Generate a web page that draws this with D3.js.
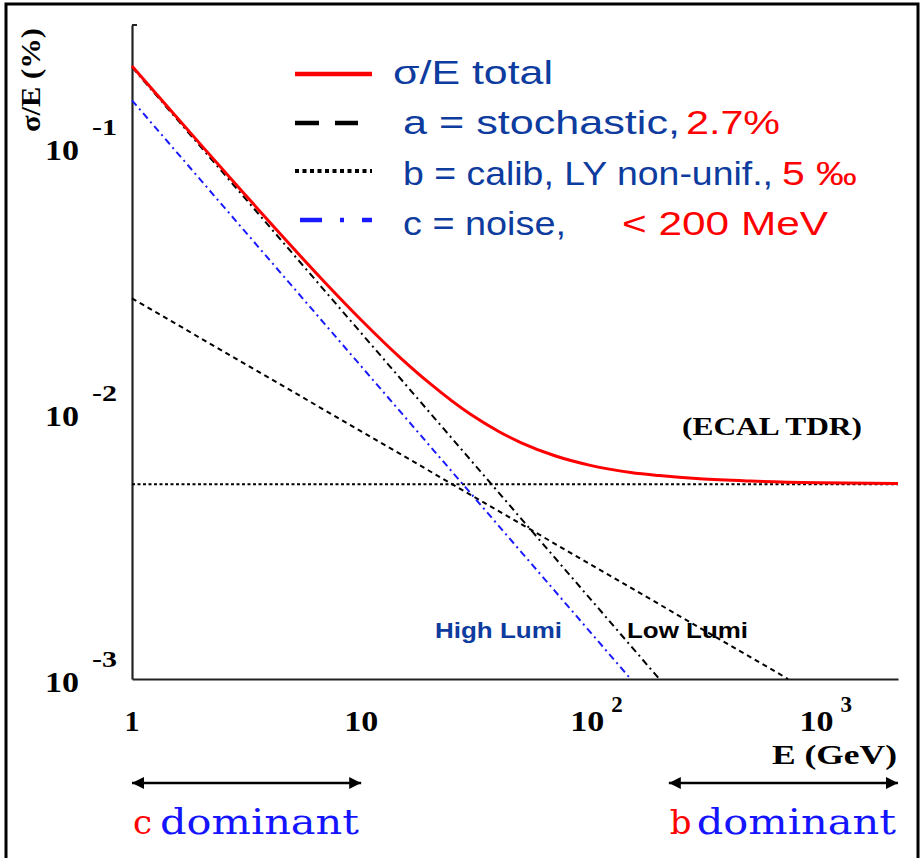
<!DOCTYPE html>
<html>
<head>
<meta charset="utf-8">
<script src="https://cdn.jsdelivr.net/npm/d3@7"></script>
<style>
  html, body { margin: 0; padding: 0; background: #ffffff; }
  svg { display: block; }
</style>
</head>
<body>
<svg id="chart" width="922" height="858"></svg>
<script>
// ---------------- DATA ----------------
// total resolution sigma/E (fraction)
const totalEnergies = [1, 1.5, 2, 3, 4, 5, 7, 10, 15, 20, 30, 40, 50, 70, 100, 150, 200, 300, 500, 1000, 2200];
const totalValues   = [0.2019, 0.1353, 0.1020, 0.0687, 0.0521, 0.0421, 0.0308, 0.0224, 0.0160, 0.0129, 0.00989, 0.00851, 0.00773, 0.00691, 0.00636, 0.00598, 0.00582, 0.00566, 0.00555, 0.00547, 0.00543];
// stochastic term (a = 2.7%)
const stochasticEnergies = [1, 729];
const stochasticValues   = [0.027, 0.001];
// constant term (b)
const constantEnergies = [1, 2200];
const constantValues   = [0.0054, 0.0054];
// noise term, low luminosity
const noiseLowEnergies = [1, 200];
const noiseLowValues   = [0.2, 0.001];
// noise term, high luminosity
const noiseHighEnergies = [1, 150];
const noiseHighValues   = [0.15, 0.001];

const xTickValues = [1, 10, 100, 1000];
const xTickBase   = ["1", "10", "10", "10"];
const xTickExp    = ["", "", "2", "3"];
const yTickValues = [0.1, 0.01, 0.001];
const yTickBase   = ["10", "10", "10"];
const yTickExp    = ["-1", "-2", "-3"];

const legendRows = [
  [{t: "\u03c3/E total", c: "blue"}],
  [{t: "a = stochastic,", c: "blue"}, {t: "2.7%", c: "red"}],
  [{t: "b = calib, LY non-unif.,", c: "blue"}, {t: "5 \u2030", c: "red"}],
  [{t: "c = noise,", c: "blue"}, {t: "< 200 MeV", c: "red"}]
];
const dominanceLabels = [{k: "c", rest: "dominant", from: 1, to: 10}, {k: "b", rest: "dominant", from: 220, to: 2200}];

// ---------------- DRAWING ----------------
const svg = d3.select("#chart");
const NAVY = "#0d3b9e", RED = "#ff0000", BBLUE = "#1414ff";
const col = c => c === "red" ? RED : NAVY;

const x = d3.scaleLog().domain([1, 2200]).range([132, 898]);
const y = d3.scaleLog().domain([0.001, 0.288]).range([679, 25]);

// outer frame
svg.append("rect").attr("x", 6).attr("y", 4).attr("width", 912).attr("height", 900)
  .attr("fill", "none").attr("stroke", "#000").attr("stroke-width", 3);

// axes
const xAxis = d3.axisBottom(x).tickValues(xTickValues).tickSize(0).tickSizeOuter(0).tickFormat("");
const yAxis = d3.axisLeft(y).tickValues(yTickValues).tickSize(0).tickSizeOuter(0).tickFormat("");
const gx = svg.append("g").attr("transform", "translate(0,679)").call(xAxis);
const gy = svg.append("g").attr("transform", "translate(132,0)").call(yAxis);
gx.select(".domain").attr("stroke", "#222").attr("stroke-width", 2.2);
gy.select(".domain").attr("stroke", "#222").attr("stroke-width", 2.2);
// small hook at top of y axis
svg.append("line").attr("x1", 132).attr("x2", 137).attr("y1", y(0.288)).attr("y2", y(0.288))
  .attr("stroke", "#222").attr("stroke-width", 2);

const serif = "'Liberation Serif', 'Times New Roman', serif";

// x tick labels
xTickValues.forEach((v, i) => {
  const px = x(v);
  const hasExp = xTickExp[i] !== "";
  const base = svg.append("text")
    .attr("x", hasExp ? px - 3 : px).attr("y", 731)
    .attr("text-anchor", "middle")
    .attr("font-family", serif).attr("font-weight", "bold").attr("font-size", 30)
    .attr("fill", "#000").text(xTickBase[i]);
  if (xTickBase[i].length === 2) base.attr("textLength", 34).attr("lengthAdjust", "spacingAndGlyphs");
  if (hasExp) {
    svg.append("text").attr("x", px + 21).attr("y", 712)
      .attr("font-family", serif).attr("font-weight", "bold").attr("font-size", 23)
      .attr("fill", "#000").text(xTickExp[i]);
  }
});

// y tick labels
yTickValues.forEach((v, i) => {
  const py = y(v);
  svg.append("text").attr("x", 79).attr("y", py + 13)
    .attr("text-anchor", "end")
    .attr("font-family", serif).attr("font-weight", "bold").attr("font-size", 30)
    .attr("textLength", 34).attr("lengthAdjust", "spacingAndGlyphs")
    .attr("fill", "#000").text(yTickBase[i]);
  svg.append("text").attr("x", 92).attr("y", py - 12)
    .attr("font-family", serif).attr("font-weight", "bold").attr("font-size", 23)
    .attr("textLength", 25).attr("lengthAdjust", "spacingAndGlyphs")
    .attr("fill", "#000").text(yTickExp[i]);
});

// axis titles
svg.append("text").attr("transform", "translate(40,80) rotate(-90)")
  .attr("text-anchor", "middle")
  .attr("font-family", serif).attr("font-weight", "bold").attr("font-size", 27)
  .attr("textLength", 104).attr("lengthAdjust", "spacingAndGlyphs")
  .attr("fill", "#000").text("\u03c3/E (%)");
svg.append("text").attr("x", 772).attr("y", 764)
  .attr("font-family", serif).attr("font-weight", "bold").attr("font-size", 27)
  .attr("textLength", 125).attr("lengthAdjust", "spacingAndGlyphs")
  .attr("fill", "#000").text("E (GeV)");

svg.append("text").attr("x", 682).attr("y", 435)
  .attr("font-family", serif).attr("font-weight", "bold").attr("font-size", 25)
  .attr("textLength", 180).attr("lengthAdjust", "spacingAndGlyphs")
  .attr("fill", "#000").text("(ECAL TDR)");

// curves
const line = d3.line().x(d => x(d[0])).y(d => y(d[1]));
const smooth = d3.line().x(d => x(d[0])).y(d => y(d[1])).curve(d3.curveMonotoneX);
const zip = (a, b) => a.map((e, i) => [e, b[i]]);

svg.append("path").datum(zip(constantEnergies, constantValues)).attr("d", line)
  .attr("fill", "none").attr("stroke", "#000").attr("stroke-width", 1.8).attr("stroke-dasharray", "3,2.5");
svg.append("path").datum(zip(stochasticEnergies, stochasticValues)).attr("d", line)
  .attr("fill", "none").attr("stroke", "#000").attr("stroke-width", 2).attr("stroke-dasharray", "5,4");
svg.append("path").datum(zip(noiseHighEnergies, noiseHighValues)).attr("d", line)
  .attr("fill", "none").attr("stroke", "#1a1aff").attr("stroke-width", 2).attr("stroke-dasharray", "7,4,2,4");
svg.append("path").datum(zip(noiseLowEnergies, noiseLowValues)).attr("d", line)
  .attr("fill", "none").attr("stroke", "#000").attr("stroke-width", 2).attr("stroke-dasharray", "7,4,2,4");
svg.append("path").datum(zip(totalEnergies, totalValues)).attr("d", smooth)
  .attr("fill", "none").attr("stroke", RED).attr("stroke-width", 3);

// lumi labels
const sans = "'Liberation Sans', Arial, sans-serif";
svg.append("text").attr("x", 435).attr("y", 638)
  .attr("font-family", sans).attr("font-weight", "bold").attr("font-size", 22)
  .attr("textLength", 127).attr("lengthAdjust", "spacingAndGlyphs")
  .attr("fill", NAVY).text("High Lumi");
svg.append("text").attr("x", 627).attr("y", 638)
  .attr("font-family", sans).attr("font-weight", "bold").attr("font-size", 22)
  .attr("textLength", 121).attr("lengthAdjust", "spacingAndGlyphs")
  .attr("fill", "#000").text("Low Lumi");

// legend symbols
const lg = svg.append("g");
lg.append("line").attr("x1", 295).attr("x2", 372).attr("y1", 74).attr("y2", 74)
  .attr("stroke", RED).attr("stroke-width", 4.5);
[[295, 319], [335, 358]].forEach(s => lg.append("line").attr("x1", s[0]).attr("x2", s[1]).attr("y1", 123).attr("y2", 123)
  .attr("stroke", "#000").attr("stroke-width", 4.5));
lg.append("line").attr("x1", 295).attr("x2", 372).attr("y1", 171).attr("y2", 171)
  .attr("stroke", "#000").attr("stroke-width", 4).attr("stroke-dasharray", "4,3.5");
[[300, 322], [340, 344], [362, 372]].forEach(s => lg.append("line").attr("x1", s[0]).attr("x2", s[1]).attr("y1", 220).attr("y2", 220)
  .attr("stroke", "#1a1aff").attr("stroke-width", 4.5));

// legend texts
const legendX = [[393], [403, 686], [403, 782], [403, 622]];
const legendW = [[160], [277, 94], [370, 75], [163, 206]];
const legendBase = [84, 134, 185, 235];
legendRows.forEach((row, r) => {
  row.forEach((part, k) => {
    svg.append("text").attr("x", legendX[r][k]).attr("y", legendBase[r])
      .attr("font-family", sans).attr("font-size", 33)
      .attr("textLength", legendW[r][k]).attr("lengthAdjust", "spacingAndGlyphs")
      .attr("fill", col(part.c)).text(part.t);
  });
});

// dominance arrows
const defs = svg.append("defs");
defs.append("marker").attr("id", "ah").attr("viewBox", "0 0 10 10").attr("refX", 10).attr("refY", 5)
  .attr("markerWidth", 12).attr("markerHeight", 14).attr("markerUnits", "userSpaceOnUse")
  .attr("orient", "auto-start-reverse")
  .append("path").attr("d", "M0,0 L10,5 L0,10 Z").attr("fill", "#000");

dominanceLabels.forEach(d => {
  const x0 = x(d.from), x1 = x(d.to);
  svg.append("line").attr("x1", x0).attr("x2", x1).attr("y1", 783).attr("y2", 783)
    .attr("stroke", "#000").attr("stroke-width", 2.5)
    .attr("marker-start", "url(#ah)").attr("marker-end", "url(#ah)");
  svg.append("text").attr("x", x0 + 1).attr("y", 834)
    .attr("font-family", "'DejaVu Serif', serif").attr("font-size", 34)
    .attr("fill", RED).text(d.k);
  svg.append("text").attr("x", x0 + 28).attr("y", 834)
    .attr("font-family", "'DejaVu Serif', serif").attr("font-size", 36)
    .attr("textLength", 199).attr("lengthAdjust", "spacingAndGlyphs")
    .attr("fill", BBLUE).text(d.rest);
});
</script>
</body>
</html>
